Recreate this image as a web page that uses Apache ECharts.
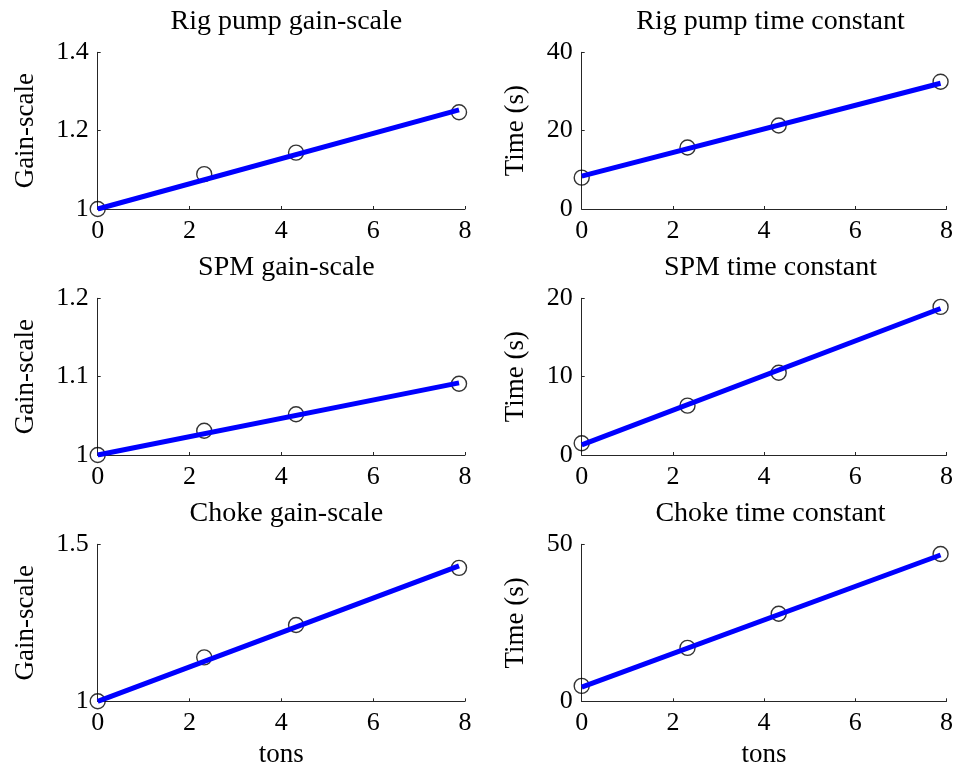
<!DOCTYPE html>
<html>
<head>
<meta charset="utf-8">
<script src="https://cdn.jsdelivr.net/npm/echarts@6/dist/echarts.min.js"></script>
<style>html,body{margin:0;padding:0;background:#fff}#c{width:956px;height:774px}</style>
</head>
<body>
<div id="c"></div>
<script>
// ---- data ----
const tons = [0, 2.32, 4.32, 7.87];
const fitX = [0, 7.87];

const titles = ['Rig pump gain-scale', 'Rig pump time constant', 'SPM gain-scale', 'SPM time constant', 'Choke gain-scale', 'Choke time constant'];
const yNames = ['Gain-scale', 'Time (s)', 'Gain-scale', 'Time (s)', 'Gain-scale', 'Time (s)'];

const rigGain = [1.0, 1.089, 1.144, 1.247];
const rigGainFit = [1.0, 1.253];
const rigTime = [8.0, 15.7, 21.3, 32.5];
const rigTimeFit = [8.4, 32.1];
const spmGain = [1.0, 1.031, 1.052, 1.091];
const spmGainFit = [1.0, 1.092];
const spmTime = [1.5, 6.3, 10.5, 18.9];
const spmTimeFit = [1.3, 18.7];
const chokeGain = [1.0, 1.140, 1.243, 1.425];
const chokeGainFit = [1.0, 1.431];
const chokeTime = [4.9, 17.0, 27.9, 46.9];
const chokeTimeFit = [4.5, 46.6];

const yMin = [1, 0, 1, 0, 1, 0];
const yMax = [1.4, 40, 1.2, 20, 1.5, 50];
const yStep = [0.2, 20, 0.1, 10, 0.5, 50];
const xTicks = {min: 0, max: 8, step: 2};

const points = [rigGain, rigTime, spmGain, spmTime, chokeGain, chokeTime];
const fits = [rigGainFit, rigTimeFit, spmGainFit, spmTimeFit, chokeGainFit, chokeTimeFit];

// ---- layout ----
const FONT = 'Liberation Serif';
const colLeft = [97.7, 581.7];
const colW = [367.3, 367.6];
const rowTop = [52.3, 298.3, 544.3];
const rowH = [156.7, 156.7, 157];
const nameGapY = [58, 52];

const grids = [], xAxes = [], yAxes = [], series = [], titleArr = [];
for (let i = 0; i < 6; i++) {
  const r = Math.floor(i / 2), c = i % 2;
  grids.push({left: colLeft[c], top: rowTop[r], width: colW[c], height: rowH[r], containLabel: false});
  const axisCommon = {
    axisLine: {show: true, lineStyle: {color: '#262626', width: 1}},
    axisTick: {show: true, inside: true, length: 3, lineStyle: {color: '#262626', width: 1}},
    splitLine: {show: false},
    axisLabel: {color: '#000', fontFamily: FONT, fontSize: 26, margin: 9},
    nameTextStyle: {color: '#000', fontFamily: FONT, fontSize: 27}
  };
  xAxes.push(Object.assign({}, axisCommon, {
    gridIndex: i, type: 'value', min: xTicks.min, max: xTicks.max, interval: xTicks.step,
    name: r === 2 ? 'tons' : '', nameLocation: 'middle', nameGap: 40
  }));
  yAxes.push(Object.assign({}, axisCommon, {
    gridIndex: i, type: 'value', min: yMin[i], max: yMax[i], interval: yStep[i],
    name: yNames[i], nameLocation: 'middle', nameGap: nameGapY[c],
    axisLabel: Object.assign({}, axisCommon.axisLabel, {formatter: v => String(+v.toFixed(3))})
  }));
  series.push({
    type: 'scatter', xAxisIndex: i, yAxisIndex: i, z: 2,
    data: tons.map((x, k) => [x, points[i][k]]),
    symbol: 'circle', symbolSize: 15,
    itemStyle: {color: 'rgba(0,0,0,0)', borderColor: '#000', borderWidth: 1.4},
    silent: true
  });
  series.push({
    type: 'line', xAxisIndex: i, yAxisIndex: i, z: 3,
    data: fitX.map((x, k) => [x, fits[i][k]]),
    showSymbol: false, symbol: 'none',
    lineStyle: {color: '#0000ff', width: 5}, silent: true
  });
  titleArr.push({
    text: titles[i], left: colLeft[c] + colW[c] / 2, top: rowTop[r] - 50, textAlign: 'center',
    textStyle: {fontFamily: FONT, fontSize: 28, fontWeight: 'normal', color: '#000'}
  });
}

const chart = echarts.init(document.getElementById('c'), null, {renderer: 'canvas'});
chart.setOption({
  animation: false,
  backgroundColor: '#fff',
  title: titleArr,
  grid: grids, xAxis: xAxes, yAxis: yAxes, series: series
});
</script>
</body>
</html>
